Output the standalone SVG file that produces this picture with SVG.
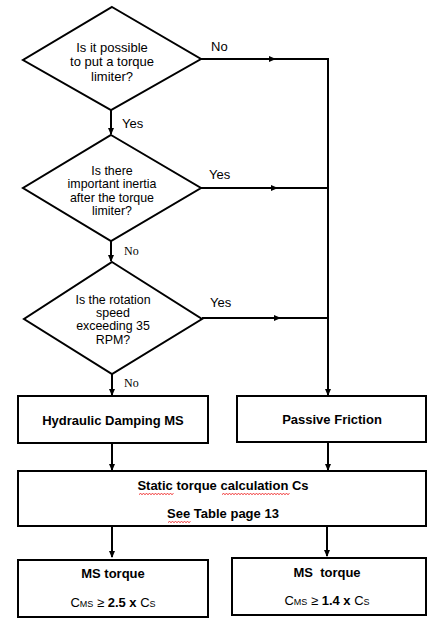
<svg xmlns="http://www.w3.org/2000/svg" width="441" height="631" viewBox="0 0 441 631">
<style>
.shape{fill:#fff;stroke:#000;stroke-width:2}
.ln{fill:none;stroke:#000;stroke-width:2}
.t{font-family:"Liberation Sans",Arial,sans-serif;font-size:13px;fill:#000;text-anchor:middle}
.s{font-size:12.4px}
.b{font-weight:bold}
.lbl{font-family:"Liberation Sans",Arial,sans-serif;font-size:13px;fill:#000}
.ser{font-family:"Liberation Serif","Times New Roman",serif;font-size:12px;fill:#000}
.sq{fill:none;stroke:#e00;stroke-width:0.8}
</style>
<defs>
<marker id="ah" markerWidth="7" markerHeight="6" refX="6" refY="3" orient="auto" markerUnits="userSpaceOnUse">
<path d="M0,0 L7,3 L0,6 Z" fill="#000"/>
</marker>
</defs>
<g id="connectors">
<path class="ln" d="M111,110 V134" marker-end="url(#ah)"/>
<path class="ln" d="M111,241 V261" marker-end="url(#ah)"/>
<path class="ln" d="M112,374 V395" marker-end="url(#ah)"/>
<path class="ln" d="M201,59 H275" marker-end="url(#ah)"/>
<path class="ln" d="M270,59 H328 V395" marker-end="url(#ah)"/>
<path class="ln" d="M201,188 H277" marker-end="url(#ah)"/>
<path class="ln" d="M272,188 H328"/>
<path class="ln" d="M202,318 H280" marker-end="url(#ah)"/>
<path class="ln" d="M275,318 H328"/>
<path class="ln" d="M112,443 V470" marker-end="url(#ah)"/>
<path class="ln" d="M328,442 V470" marker-end="url(#ah)"/>
<path class="ln" d="M112,526 V557" marker-end="url(#ah)"/>
<path class="ln" d="M327,526 V556" marker-end="url(#ah)"/>
<text class="lbl" x="211" y="51">No</text>
<text class="lbl" x="122" y="128">Yes</text>
<text class="lbl" x="209" y="179">Yes</text>
<text class="ser" x="124" y="255">No</text>
<text class="lbl" x="210" y="307">Yes</text>
<text class="ser" x="124" y="387">No</text>
</g>
<g id="d1">
<polygon class="shape" points="112,7 201,59 111,110 23,60"/>
<text class="t" x="112" y="51.5">Is it possible</text>
<text class="t" x="112" y="66">to put a torque</text>
<text class="t" x="112" y="80.5">limiter?</text>
</g>
<g id="d2">
<polygon class="shape" points="111,135 201,188 111,241 23,188"/>
<text class="t s" x="112" y="175">Is there</text>
<text class="t s" x="112" y="188">important inertia</text>
<text class="t s" x="112" y="202">after the torque</text>
<text class="t s" x="112" y="215">limiter?</text>
</g>
<g id="d3">
<polygon class="shape" points="112,262 202,319 112,374 24,319"/>
<text class="t s" x="113" y="303.5">Is the rotation</text>
<text class="t s" x="113" y="317">speed</text>
<text class="t s" x="113" y="330">exceeding 35</text>
<text class="t s" x="113" y="343.5">RPM?</text>
</g>
<g id="hyd">
<rect class="shape" x="18" y="396" width="190" height="47"/>
<text class="t b" x="113" y="424.5">Hydraulic Damping MS</text>
</g>
<g id="pas">
<rect class="shape" x="237" y="396" width="189" height="46"/>
<text class="t b" x="332" y="424">Passive Friction</text>
</g>
<g id="static">
<rect class="shape" x="18" y="471" width="408" height="55"/>
<text class="t b" x="223" y="490">Static torque calculation Cs</text>
<text class="t b" x="223" y="518">See Table page 13</text>
<path class="sq" d="M139,494.5 l1.5,-1 l1.5,1 l1.5,-1 l1.5,1 l1.5,-1 l1.5,1 l1.5,-1 l1.5,1 l1.5,-1 l1.5,1 l1.5,-1 l1.5,1 l1.5,-1 l1.5,1 l1.5,-1 l1.5,1 l1.5,-1 l1.5,1 l1.5,-1 l1.5,1 l1.5,-1 l1.5,1 l1.5,-1"/>
<path class="sq" d="M222,494.5 l1.5,-1 l1.5,1 l1.5,-1 l1.5,1 l1.5,-1 l1.5,1 l1.5,-1 l1.5,1 l1.5,-1 l1.5,1 l1.5,-1 l1.5,1 l1.5,-1 l1.5,1 l1.5,-1 l1.5,1 l1.5,-1 l1.5,1 l1.5,-1 l1.5,1 l1.5,-1 l1.5,1 l1.5,-1 l1.5,1 l1.5,-1 l1.5,1 l1.5,-1 l1.5,1 l1.5,-1 l1.5,1 l1.5,-1 l1.5,1 l1.5,-1 l1.5,1 l1.5,-1 l1.5,1 l1.5,-1 l1.5,1 l1.5,-1 l1.5,1 l1.5,-1 l1.5,1 l1.5,-1 l1.5,1 l1.5,-1"/>
<path class="sq" d="M168,522.5 l1.5,-1 l1.5,1 l1.5,-1 l1.5,1 l1.5,-1 l1.5,1 l1.5,-1 l1.5,1 l1.5,-1 l1.5,1 l1.5,-1 l1.5,1 l1.5,-1 l1.5,1 l1.5,-1"/>
</g>
<g id="ms1">
<rect class="shape" x="18" y="560" width="190" height="57"/>
<text class="t b" x="113" y="578">MS torque</text>
<text class="t" x="113" y="607">C<tspan font-size="9">MS</tspan> ≥ <tspan font-weight="bold">2.5 x</tspan> C<tspan font-size="9">S</tspan></text>
</g>
<g id="ms2">
<rect class="shape" x="232" y="558" width="194" height="57"/>
<text class="t b" x="327" y="577" xml:space="preserve">MS  torque</text>
<text class="t" x="327" y="605">C<tspan font-size="9">MS</tspan> ≥ <tspan font-weight="bold">1.4 x</tspan> C<tspan font-size="9">S</tspan></text>
</g>
</svg>
